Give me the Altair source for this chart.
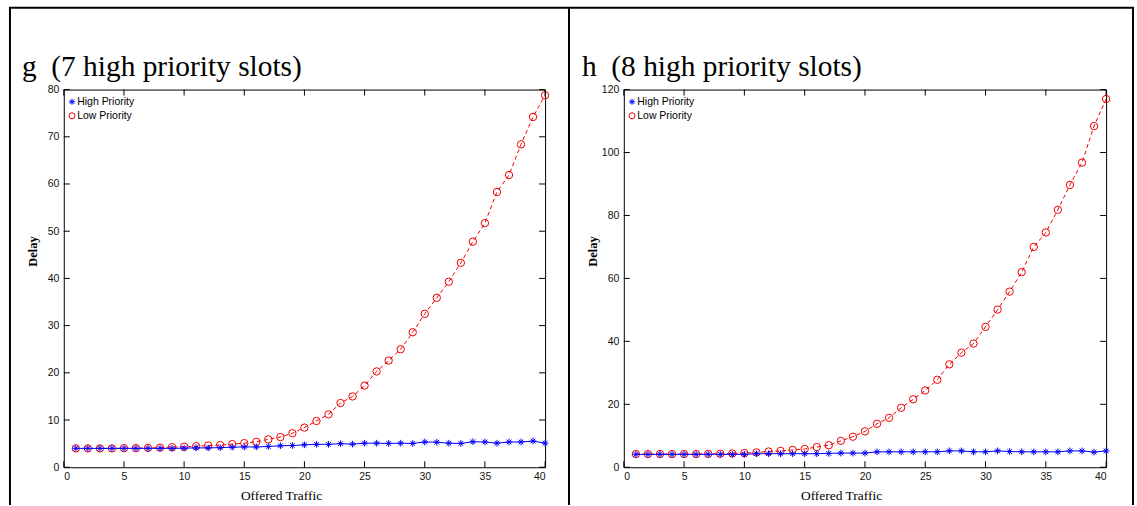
import altair as alt
import pandas as pd

# ---------------- data ----------------
offered = list(range(1, 41))

g_high = [4.0, 4.0, 4.0, 4.0, 4.0, 4.0, 4.0, 4.0, 4.0, 4.05,
          4.1, 4.1, 4.15, 4.25, 4.3, 4.3, 4.4, 4.55, 4.6, 4.75,
          4.85, 4.85, 5.0, 4.9, 5.1, 5.1, 5.05, 5.1, 5.05, 5.35,
          5.3, 5.1, 5.05, 5.4, 5.35, 5.1, 5.35, 5.35, 5.55, 5.1]
g_low = [4.0, 4.0, 4.0, 4.0, 4.05, 4.05, 4.1, 4.15, 4.25, 4.35,
         4.45, 4.6, 4.7, 4.9, 5.1, 5.4, 5.9, 6.4, 7.2, 8.4,
         9.8, 11.2, 13.6, 15.0, 17.3, 20.3, 22.6, 25.0, 28.6, 32.5,
         35.9, 39.3, 43.3, 47.8, 51.7, 58.3, 61.9, 68.4, 74.2, 78.8]

h_high = [4.1, 4.1, 4.1, 4.1, 4.1, 4.1, 4.1, 4.1, 4.1, 4.1,
          4.3, 4.3, 4.3, 4.3, 4.3, 4.3, 4.4, 4.5, 4.5, 4.5,
          4.9, 4.9, 4.9, 4.9, 4.9, 4.9, 5.2, 5.2, 4.9, 4.9,
          5.2, 5.0, 4.9, 4.9, 4.9, 4.9, 5.2, 5.2, 4.8, 5.2]
h_low = [4.2, 4.2, 4.2, 4.2, 4.2, 4.2, 4.25, 4.3, 4.4, 4.5,
         4.7, 5.0, 5.2, 5.5, 5.8, 6.4, 7.0, 8.4, 9.7, 11.4,
         13.8, 15.7, 18.9, 21.6, 24.4, 27.8, 32.7, 36.4, 39.3, 44.6,
         50.1, 55.8, 62.0, 70.0, 74.6, 81.8, 89.7, 96.8, 108.4, 117.0]

x_ticks = [0, 5, 10, 15, 20, 25, 30, 35, 40]
g_y_ticks = [0, 10, 20, 30, 40, 50, 60, 70, 80]
h_y_ticks = [0, 20, 40, 60, 80, 100, 120]

series_names = ["High Priority", "Low Priority"]
series_colors = ["#0000ff", "#f00000"]
panel_titles = ["g \u00a0(7 high priority slots)", "h \u00a0(8 high priority slots)"]
x_title = "Offered Traffic"
y_title = "Delay"

STAR = "M-1,0L1,0M0,-1L0,1M-0.7,-0.7L0.7,0.7M-0.7,0.7L0.7,-0.7"
SANS = "Liberation Sans"
SERIF = "Liberation Serif"
TICK = 6


def panel(high, low, y_ticks, y_max, title, W, H, with_frame):
    df = pd.DataFrame({
        "x": offered * 2,
        "delay": high + low,
        "series": [series_names[0]] * len(offered) + [series_names[1]] * len(offered),
    })

    xenc = alt.X("x:Q", scale=alt.Scale(domain=[0, 40], nice=False),
                 axis=alt.Axis(values=x_ticks, ticks=False, domain=False, grid=False,
                               title=x_title, titleX=218, titleY=32,
                               titleAlign="center", titleBaseline="alphabetic",
                               labelPadding=4, format="d"))
    yenc = alt.Y("delay:Q", scale=alt.Scale(domain=[0, y_max], nice=False),
                 axis=alt.Axis(values=y_ticks, ticks=False, domain=False, grid=False,
                               title=y_title, titleX=-31, titleY=162,
                               titleAlign="center", titleBaseline="middle",
                               titleFontWeight="bold", titleFontSize=12.5,
                               labelPadding=5, format="d"))
    color = alt.Color("series:N",
                      scale=alt.Scale(domain=series_names, range=series_colors),
                      legend=alt.Legend(orient="none", legendX=3, legendY=7, title=None,
                                        labelFont=SANS, labelFontSize=10.5, labelColor="#000",
                                        symbolSize=36, symbolStrokeWidth=1, labelOffset=0,
                                        rowPadding=3, padding=0))
    shape = alt.Shape("series:N", scale=alt.Scale(domain=series_names, range=[STAR, "circle"]))

    base = alt.Chart(df)
    low_line = base.transform_filter(alt.datum.series == series_names[1]).mark_line(
        strokeWidth=1, strokeDash=[4, 3], color=series_colors[1]).encode(x=xenc, y=yenc)
    low_pts = base.transform_filter(alt.datum.series == series_names[1]).mark_point(
        filled=False, strokeWidth=1, size=55, opacity=1).encode(
        x="x:Q", y="delay:Q", color=color, shape=shape)
    high_line = base.transform_filter(alt.datum.series == series_names[0]).mark_line(
        strokeWidth=1, color=series_colors[0]).encode(x="x:Q", y="delay:Q")
    high_pts = base.transform_filter(alt.datum.series == series_names[0]).mark_point(
        filled=False, strokeWidth=1, size=45, opacity=1).encode(
        x="x:Q", y="delay:Q", color=color, shape=shape)

    xt = alt.Chart(pd.DataFrame({"x": x_ticks}))
    yt = alt.Chart(pd.DataFrame({"delay": y_ticks}))
    tick_b = xt.mark_rule(color="black", strokeWidth=1).encode(
        x="x:Q", y=alt.value(H), y2=alt.value(H - TICK))
    tick_t = xt.mark_rule(color="black", strokeWidth=1).encode(
        x="x:Q", y=alt.value(0), y2=alt.value(TICK))
    tick_l = yt.mark_rule(color="black", strokeWidth=1).encode(
        y="delay:Q", x=alt.value(0), x2=alt.value(TICK))
    tick_r = yt.mark_rule(color="black", strokeWidth=1).encode(
        y="delay:Q", x=alt.value(W), x2=alt.value(W - TICK))

    ttl = alt.Chart(pd.DataFrame({"title": [title]})).mark_text(
        align="left", baseline="alphabetic", font=SERIF, fontSize=29.5, color="black").encode(
        text="title:N", x=alt.value(-42), y=alt.value(-14))

    layers = [low_line, low_pts, high_line, high_pts, tick_b, tick_t, tick_l, tick_r, ttl]

    if with_frame:
        one = alt.Chart(pd.DataFrame({"k": [0]}))
        fr = dict(color="black", strokeWidth=2)
        layers += [
            one.mark_rule(**fr).encode(x=alt.value(-54), y=alt.value(-82), y2=alt.value(417)),
            one.mark_rule(**fr).encode(x=alt.value(-55), x2=alt.value(1074), y=alt.value(-82)),
            one.mark_rule(**fr).encode(x=alt.value(507), y=alt.value(-82), y2=alt.value(417)),
            one.mark_rule(**fr).encode(x=alt.value(1073), y=alt.value(-82), y2=alt.value(417)),
        ]

    return alt.layer(*layers).properties(width=W, height=H)


left = panel(g_high, g_low, g_y_ticks, 80, panel_titles[0], 483, 379, True)
right = panel(h_high, h_low, h_y_ticks, 120, panel_titles[1], 484, 379, False)

chart = alt.hconcat(left, right, spacing=79, bounds="flush").resolve_scale(
    color="independent", shape="independent"
).properties(
    padding={"left": 7, "top": 5, "right": 1, "bottom": 0},
    background="white",
).configure_view(
    stroke="black", strokeWidth=1
).configure_axis(
    labelFont=SANS, labelFontSize=10.5, labelColor="#111",
    titleFont=SERIF, titleFontSize=13.5, titleFontWeight="normal", titleColor="#000",
)

chart.save("out.html", embed_options={"renderer": "svg", "actions": False})
